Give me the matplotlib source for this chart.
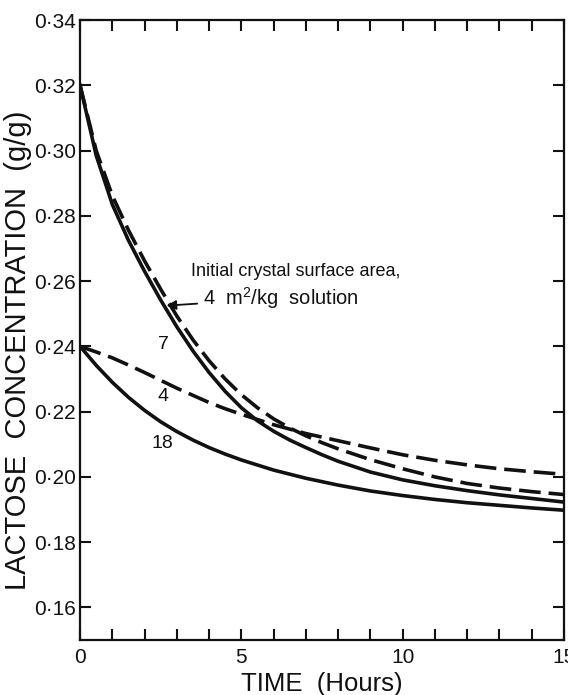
import matplotlib
matplotlib.use('Agg')
import matplotlib.pyplot as plt
import numpy as np

plt.rcParams['font.family'] = ['Liberation Sans', 'DejaVu Sans']
plt.rcParams['mathtext.fontset'] = 'custom'
plt.rcParams['mathtext.rm'] = 'Liberation Sans'

# time in hours for the two curves that start at 0.32
t_hi = [0, 0.5, 1.0, 1.5, 2.0, 2.5, 3.0, 3.5, 4.0, 4.5, 5.0, 5.5, 6.0, 6.5,
        7.0, 7.5, 8.0, 9.0, 10.0, 11.0, 12.0, 13.0, 14.0, 15.0]
# solid, label 7
c_7 = [0.3200, 0.2985, 0.2835, 0.2725, 0.2630, 0.2542, 0.2460, 0.2386, 0.2320, 0.2262,
       0.2212, 0.2172, 0.2140, 0.2113, 0.2090, 0.2068, 0.2048, 0.2015, 0.1991, 0.1973,
       0.1958, 0.1945, 0.1934, 0.1923]
# dashed, initial crystal surface area 4 m2/kg
c_4_hi = [0.3200, 0.3000, 0.2862, 0.2756, 0.2662, 0.2575, 0.2493, 0.2420, 0.2356, 0.2300,
          0.2252, 0.2212, 0.2178, 0.2150, 0.2126, 0.2105, 0.2086, 0.2053, 0.2025, 0.2000,
          0.1980, 0.1966, 0.1955, 0.1946]

# time in hours for the two curves that start at 0.24
t_low = [0, 0.5, 1.0, 1.5, 2.0, 2.5, 3.0, 3.5, 4.0, 4.5, 5.0, 6.0, 7.0, 8.0, 9.0,
         10.0, 11.0, 12.0, 13.0, 14.0, 15.0]
# dashed, label 4
c_4_lo = [0.2400, 0.2383, 0.2365, 0.2343, 0.2320, 0.2296, 0.2272, 0.2250, 0.2228, 0.2209,
          0.2192, 0.2160, 0.2133, 0.2111, 0.2089, 0.2068, 0.2051, 0.2037, 0.2025, 0.2016,
          0.2008]
# solid, label 18
c_18 = [0.2400, 0.2342, 0.2290, 0.2244, 0.2204, 0.2169, 0.2139, 0.2113, 0.2090, 0.2070,
        0.2052, 0.2021, 0.1996, 0.1975, 0.1957, 0.1943, 0.1931, 0.1921, 0.1913, 0.1905,
        0.1898]

yticks = [0.16, 0.18, 0.20, 0.22, 0.24, 0.26, 0.28, 0.30, 0.32, 0.34]
ytick_labels = ['0·16', '0·18', '0·20', '0·22', '0·24', '0·26', '0·28', '0·30', '0·32', '0·34']
xticks = list(range(0, 16))
xtick_labels = [str(h) if h % 5 == 0 else '' for h in xticks]

ink = '#111111'

fig = plt.figure(figsize=(5.68, 6.95), dpi=100)
ax = fig.add_axes([0.141, 0.079, 0.852, 0.892])

ax.plot(t_hi, c_7, color=ink, lw=2.6)
ax.plot(t_hi, c_4_hi, color=ink, lw=2.6, dashes=(6, 2.2))
ax.plot(t_low, c_4_lo, color=ink, lw=2.6, dashes=(6, 2.2))
ax.plot(t_low, c_18, color=ink, lw=2.6)

ax.set_xlim(0, 15)
ax.set_ylim(0.15, 0.34)
ax.set_xticks(xticks)
ax.set_xticklabels(xtick_labels)
ax.set_yticks(yticks)
ax.set_yticklabels(ytick_labels)
ax.tick_params(direction='in', length=8, width=1.5, color=ink, labelsize=15,
               top=True, right=True, labelcolor=ink)
ax.tick_params(axis='x', pad=6)
ax.tick_params(axis='y', pad=3)
for s in ax.spines.values():
    s.set_linewidth(1.6)
    s.set_color(ink)

ax.set_xlabel('TIME  (Hours)', fontsize=18.5, color=ink, labelpad=3)
ax.set_ylabel('LACTOSE  CONCENTRATION  (g/g)', fontsize=21, color=ink)
ax.yaxis.set_label_coords(-0.1, 0.468)

ax.text(3.45, 0.2615, 'Initial crystal surface area,', fontsize=13, color=ink)
ax.annotate('4  m$^{2}$/kg  solution', xy=(2.68, 0.2525), xytext=(3.8, 0.2548),
            fontsize=14.5, color=ink, va='center',
            arrowprops=dict(arrowstyle='-|>', color=ink, lw=1.3, mutation_scale=14,
                            shrinkA=2, shrinkB=0))
ax.text(2.58, 0.2405, '7', fontsize=14, color=ink, ha='center', va='center')
ax.text(2.58, 0.2246, '4', fontsize=14, color=ink, ha='center', va='center')
ax.text(2.55, 0.2103, '18', fontsize=14, color=ink, ha='center', va='center')

fig.savefig('out.png', dpi=100)
